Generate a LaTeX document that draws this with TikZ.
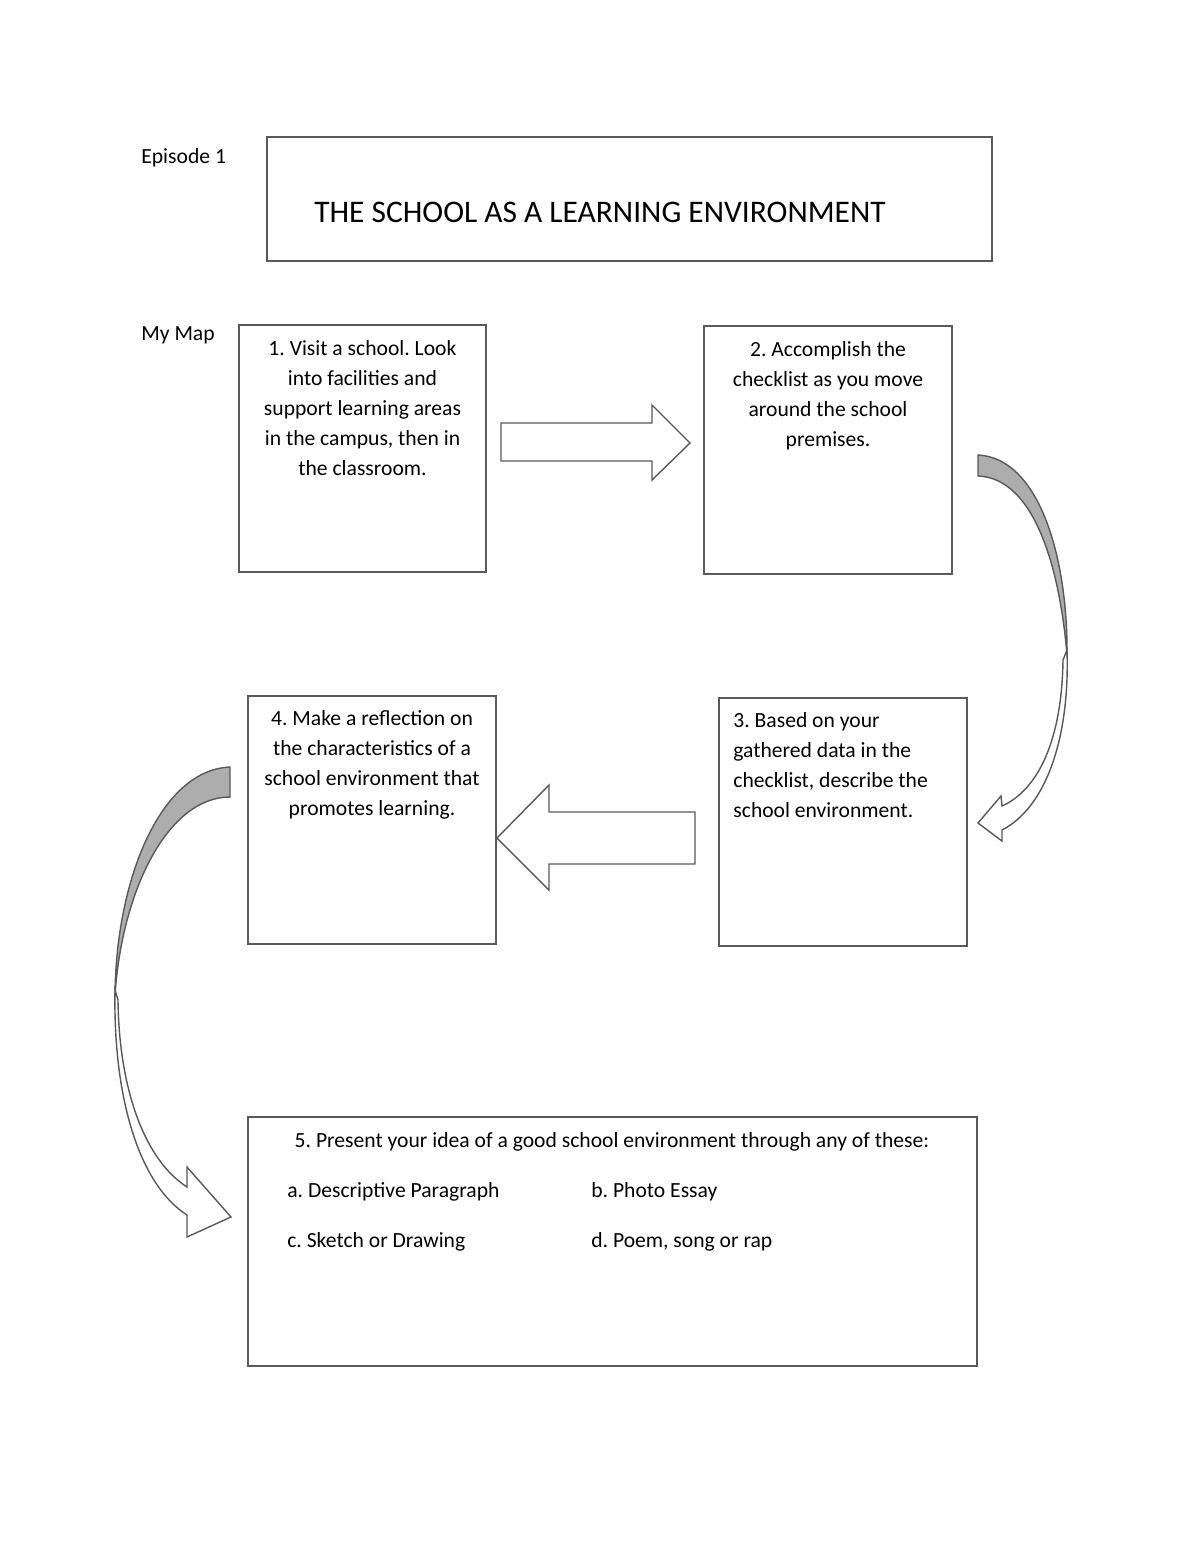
\documentclass[tikz,border=0pt]{standalone}
\usepackage{fontspec}
\setmainfont{Carlito}
\usetikzlibrary{positioning}
\frenchspacing
\begin{document}
\begin{tikzpicture} [
        x=0.02cm, y=-0.02cm,
        card/.style={draw=black!65, rectangle, line width=1.1pt, inner sep=0pt},
        words/.style={inner sep=0pt, align=center, font=\fontsize{12.3}{17.07}\selectfont},
        plain/.style={inner sep=0pt, font=\fontsize{12.3}{17.07}\selectfont},
        band/.style={draw=black!65, line width=0.8pt, line join=miter},
        node distance=0.2cm ]
    \useasboundingbox (0,0) rectangle (1200,1553);
    \node[plain, anchor=base west] (ep) at (141,163) {Episode 1};
    \node[plain, anchor=base west] (map) at (141,340) {My Map};
    \node[card, minimum width=14.5cm, minimum height=2.48cm] (head) at (629.5,199) {};
    \node[inner sep=0pt, anchor=base, font=\fontsize{17.9}{21}\selectfont] (headtext) at (600,222) {THE SCHOOL AS A LEARNING ENVIRONMENT};
    \node[card, minimum width=4.94cm, minimum height=4.94cm] (b1) at (362.5,448.5) {};
    \node[card, minimum width=4.96cm, minimum height=4.96cm] (b2) at (828,450) {};
    \node[card, minimum width=4.96cm, minimum height=4.96cm] (b3) at (843,822) {};
    \node[card, minimum width=4.96cm, minimum height=4.96cm] (b4) at (372,820) {};
    \node[card, minimum width=14.58cm, minimum height=4.98cm] (b5) at (612.5,1241.5) {};
    \node[words, below=of b1.north] (t1) {\strut 1. Visit a school. Look\\into facilities and\\support learning areas\\in the campus, then in\\the classroom.};
    \node[words, below=of b2.north] (t2) {\strut 2. Accomplish the\\checklist as you move\\around the school\\premises.};
    \node[words, align=left, below right=0.18cm and 0.3cm of b3.north west] (t3) {\strut 3. Based on your\\gathered data in the\\checklist, describe the\\school environment.};
    \node[words, below=0.18cm of b4.north] (t4) {\strut 4. Make a reflection on\\the characteristics of a\\school environment that\\promotes learning.};
    \node[plain, anchor=base] (t5) at (612,1147) {5. Present your idea of a good school environment through any of these:};
    \node[plain, anchor=base west] (t5a) at (287,1197) {a. Descriptive Paragraph};
    \node[plain, anchor=base west] (t5b) at (591,1197) {b. Photo Essay};
    \node[plain, anchor=base west] (t5c) at (287,1247) {c. Sketch or Drawing};
    \node[plain, anchor=base west] (t5d) at (591,1247) {d. Poem, song or rap};
    \draw[band, fill=white] (501,423) -- (652,423) -- (652,405) -- (690,443) -- (652,480) -- (652,461) -- (501,461) -- cycle;
    \draw[band, fill=white] (695,812) -- (549,812) -- (549,785) -- (497,838) -- (549,890) -- (549,864) -- (695,864) -- cycle;
    \draw[band, fill=black!32] (978,455) .. controls (1040,458) and (1068,560) .. (1067,655)
        .. controls (1060,570) and (1035,478) .. (978,476) -- cycle;
    \draw[band, fill=white] (1067,650) .. controls (1070,740) and (1045,808) .. (1002,830) -- (1002,841) -- (978,823) -- (1001,796) -- (1002,806)
        .. controls (1038,790) and (1062,740) .. (1063,660) -- cycle;
    \draw[band, fill=black!32] (230,767) .. controls (160,770) and (116,880) .. (115,995)
        .. controls (122,890) and (168,797) .. (230,797) -- cycle;
    \draw[band, fill=white] (115,990) .. controls (113,1100) and (140,1185) .. (187,1215) -- (187,1237) -- (231,1217) -- (187,1167) -- (187,1187)
        .. controls (145,1160) and (119,1090) .. (118,1000) -- cycle;
\end{tikzpicture}
\end{document}
